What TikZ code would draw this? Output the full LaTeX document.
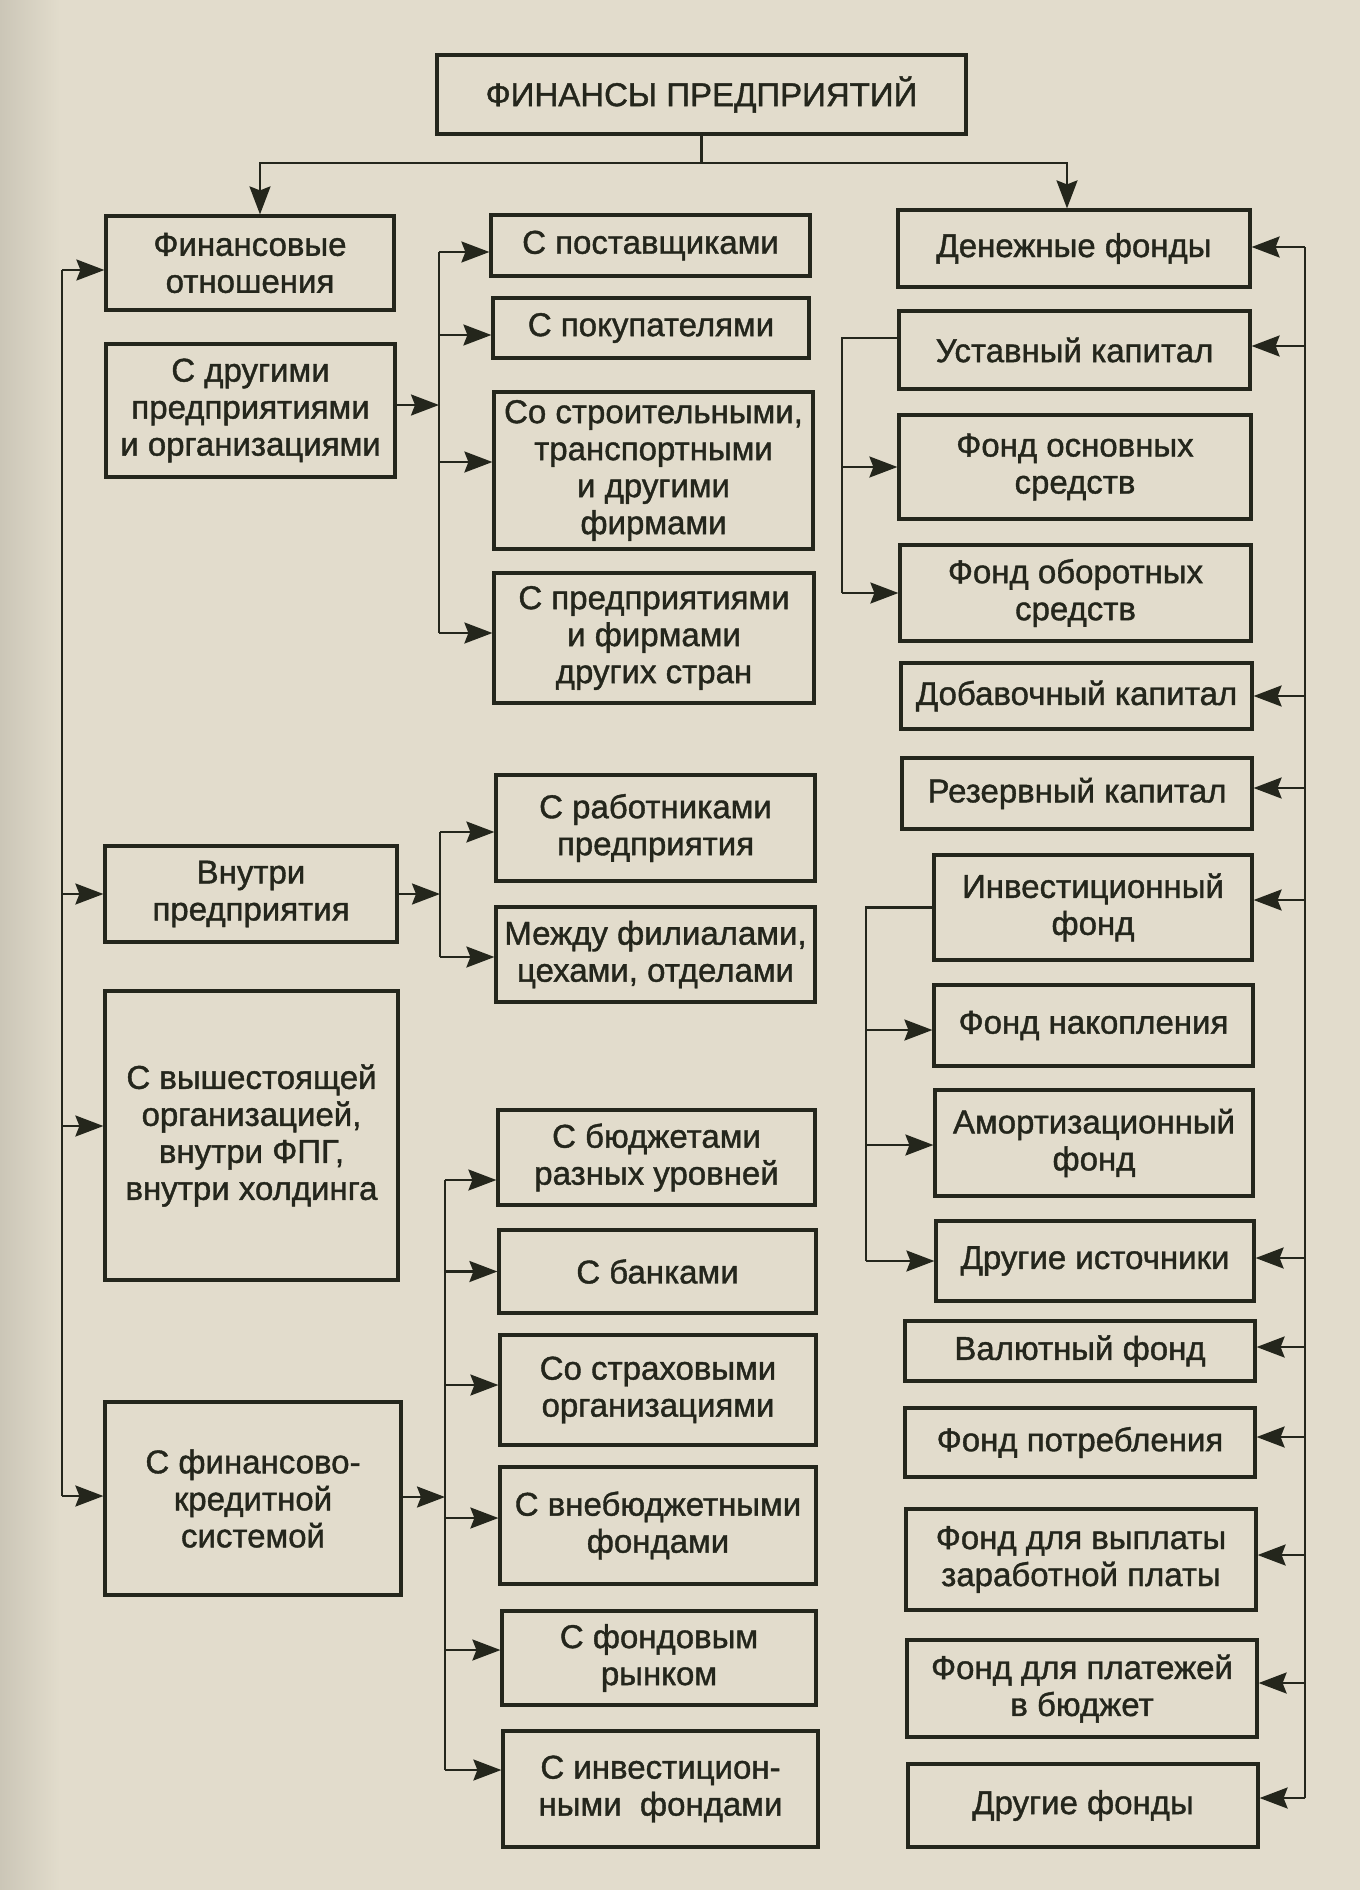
\documentclass[tikz,border=0pt]{standalone}
\usepackage{fontspec}
\setmainfont{Liberation Sans}
\newfontfamily\diafont[FakeBold=1.2]{Liberation Sans}
\usetikzlibrary{arrows.meta,calc}
\definecolor{paper}{RGB}{226,220,204}
\definecolor{gutter}{RGB}{203,198,183}
\definecolor{ink}{RGB}{36,38,28}
\newcommand\diabox[6]{\node[box, minimum width={(#4-#2)*1pt}, minimum height={(#5-#3)*1pt}] (#1) at ({(#2+#4)/2},{(#3+#5)/2}) {#6};}
\begin{document}
\begin{tikzpicture}[x=1pt,y=-1pt,
  box/.style={draw=ink, line width=3.2pt, align=center, inner sep=0pt, text=ink,
    font=\diafont\fontsize{33}{37}\selectfont},
  conn/.style={draw=ink, line width=2.4pt},
  arr/.style={conn, -{Stealth[length=28pt,width=21pt,inset=4pt]}}]
\fill[paper] (0,0) rectangle (1360,1890);
\shade[left color=gutter, right color=paper] (0,0) rectangle (60,1890);
\useasboundingbox (0,0) rectangle (1360,1890);

% title
\diabox{title}{437}{55}{966}{134}{ФИНАНСЫ ПРЕДПРИЯТИЙ}

% left column
\diabox{fo}{106}{216}{394}{310}{Финансовые\\отношения}
\diabox{dr}{106}{344}{395}{477}{С другими\\предприятиями\\и организациями}
\diabox{vn}{105}{846}{397}{942}{Внутри\\предприятия}
\diabox{vy}{105}{991}{398}{1280}{С вышестоящей\\организацией,\\внутри ФПГ,\\внутри холдинга}
\diabox{fk}{105}{1402}{401}{1595}{С финансово-\\кредитной\\системой}

% middle column
\diabox{m1}{491}{215}{810}{276}{С поставщиками}
\diabox{m2}{493}{298}{809}{358}{С покупателями}
\diabox{m3}{494}{392}{813}{549}{Со строительными,\\транспортными\\и другими\\фирмами}
\diabox{m4}{494}{573}{814}{703}{С предприятиями\\и фирмами\\других стран}
\diabox{m5}{496}{775}{815}{881}{С работниками\\предприятия}
\diabox{m6}{496}{907}{815}{1002}{Между филиалами,\\цехами, отделами}
\diabox{m7}{498}{1110}{815}{1205}{С бюджетами\\разных уровней}
\diabox{m8}{499}{1230}{816}{1313}{С банками}
\diabox{m9}{500}{1335}{816}{1445}{Со страховыми\\организациями}
\diabox{m10}{500}{1467}{816}{1584}{С внебюджетными\\фондами}
\diabox{m11}{502}{1611}{816}{1705}{С фондовым\\рынком}
\diabox{m12}{503}{1731}{818}{1847}{С инвестицион-\\ными\ \ фондами}

% right column
\diabox{r1}{898}{210}{1250}{287}{Денежные фонды}
\diabox{r2}{899}{311}{1250}{389}{Уставный капитал}
\diabox{r3}{899}{415}{1251}{519}{Фонд основных\\средств}
\diabox{r4}{900}{545}{1251}{641}{Фонд оборотных\\средств}
\diabox{r5}{901}{663}{1252}{729}{Добавочный капитал}
\diabox{r6}{902}{758}{1252}{829}{Резервный капитал}
\diabox{r7}{934}{855}{1252}{960}{Инвестиционный\\фонд}
\diabox{r8}{934}{985}{1253}{1066}{Фонд накопления}
\diabox{r9}{935}{1090}{1253}{1196}{Амортизационный\\фонд}
\diabox{r10}{936}{1221}{1254}{1301}{Другие источники}
\diabox{r11}{905}{1321}{1255}{1381}{Валютный фонд}
\diabox{r12}{905}{1408}{1255}{1477}{Фонд потребления}
\diabox{r13}{906}{1509}{1256}{1610}{Фонд для выплаты\\заработной платы}
\diabox{r14}{907}{1640}{1257}{1737}{Фонд для платежей\\в бюджет}
\diabox{r15}{908}{1764}{1258}{1847}{Другие фонды}

% title connectors
\coordinate (tj) at (703,163);
\draw[conn] (title.south) -- (title.south |- tj);
\draw[arr] (title.south |- tj) -| ([xshift=10pt]fo.north);
\draw[arr] (title.south |- tj) -| ([xshift=-7pt]r1.north);

% left bus
\coordinate (lb) at (62,0);
\path ([yshift=-7pt]fo.west) coordinate (fo-in)
      (vn.west) coordinate (vn-in)
      ([yshift=9.5pt]vy.west) coordinate (vy-in)
      ([yshift=2.5pt]fk.west) coordinate (fk-in);
\draw[conn] (lb |- fo-in) -- (lb |- fk-in);
\foreach \n in {fo,vn,vy,fk} \draw[arr] (lb |- \n-in) -- (\n-in);

% group 1
\coordinate (b1) at (439,0);
\path ([yshift=5.5pt]dr.east) coordinate (dr-out);
\draw[arr] (dr-out) -- (b1 |- dr-out);
\foreach \n/\sh in {m1/-6.5,m2/-7,m3/8.5,m4/5}
  \path ([yshift=\sh pt]\n.west) coordinate (\n-in);
\draw[conn] (b1 |- m1-in) -- (b1 |- m4-in);
\foreach \n in {m1,m2,m3,m4} \draw[arr] (b1 |- \n-in) -- (\n-in);

% group 2
\coordinate (b2) at (440,0);
\draw[arr] (vn.east) -- (b2 |- vn.east);
\foreach \n/\sh in {m5/-4,m6/-2.5}
  \path ([yshift=\sh pt]\n.west) coordinate (\n-in);
\draw[conn] (b2 |- m5-in) -- (b2 |- m6-in);
\foreach \n in {m5,m6} \draw[arr] (b2 |- \n-in) -- (\n-in);

% group 3
\coordinate (b3) at (445,0);
\path ([yshift=1.5pt]fk.east) coordinate (fk-out);
\draw[arr] (fk-out) -- (b3 |- fk-out);
\foreach \n/\sh in {m7/-22.5,m8/0,m9/5,m10/7.5,m11/8,m12/19}
  \path ([yshift=\sh pt]\n.west) coordinate (\n-in);
\draw[conn] (b3 |- m7-in) -- (b3 |- m12-in);
\foreach \n in {m7,m8,m9,m10,m11,m12} \draw[arr] (b3 |- \n-in) -- (\n-in);

% right bus
\coordinate (rb) at (1305,0);
\foreach \n/\sh in {r1/1.5,r2/4,r5/0,r6/5.5,r7/7.5,r10/3,r11/4,r12/5.5,r13/4.5,r14/5.5,r15/7.5}
  \path ([yshift=\sh pt]\n.east) coordinate (\n-inr);
\draw[conn] (rb |- r1-inr) -- (rb |- r15-inr);
\foreach \n in {r1,r2,r5,r6,r7,r10,r11,r12,r13,r14,r15} \draw[arr] (rb |- \n-inr) -- (\n-inr);

% sub-bus 1
\coordinate (s1) at (842,0);
\path ([yshift=12pt]r2.west) coordinate (r2-out);
\path (r3.west) coordinate (r3-in) (r4.west) coordinate (r4-in);
\draw[conn] (r2-out) -- (s1 |- r2-out) -- (s1 |- r4-in);
\foreach \n in {r3,r4} \draw[arr] (s1 |- \n-in) -- (\n-in);

% sub-bus 2
\coordinate (s2) at (866,0);
\path (r7.west) coordinate (r7-out);
\path ([yshift=-4.5pt]r8.west) coordinate (r8-in) ([yshift=-2pt]r9.west) coordinate (r9-in) (r10.west) coordinate (r10-in);
\draw[conn] (r7-out) -- (s2 |- r7-out) -- (s2 |- r10-in);
\foreach \n in {r8,r9,r10} \draw[arr] (s2 |- \n-in) -- (\n-in);
\end{tikzpicture}
\end{document}
